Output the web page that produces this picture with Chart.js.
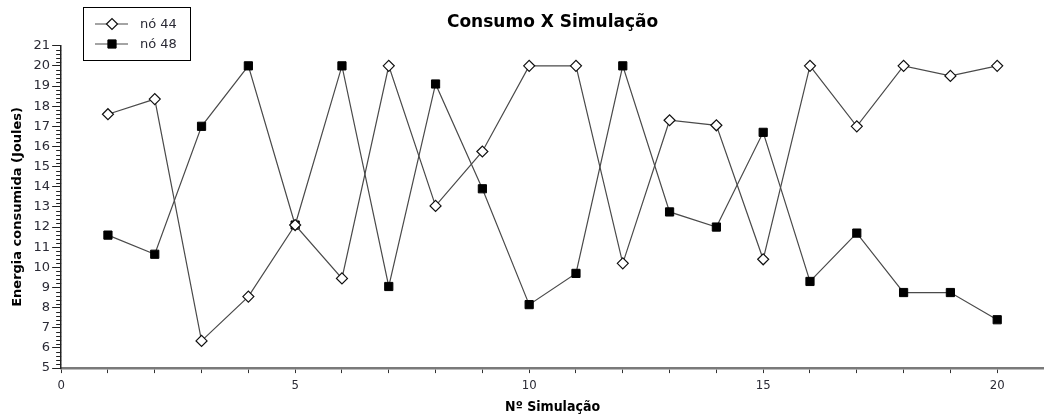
<!DOCTYPE html>
<html>
<head>
<meta charset="utf-8">
<script src="https://cdn.jsdelivr.net/npm/chart.js@4/dist/chart.umd.min.js"></script>
<style>
  html, body { margin: 0; padding: 0; background: #fff; }
  #wrap { width: 1044px; height: 416px; position: relative; }
</style>
</head>
<body>
<div id="wrap"><canvas id="c" width="1044" height="416"></canvas></div>
<script>
const simulacoes = [1,2,3,4,5,6,7,8,9,10,11,12,13,14,15,16,17,18,19,20];
const no44 = [17.6,18.35,6.35,8.55,12.1,9.45,20,13.05,15.75,20,20,10.2,17.3,17.05,10.4,20,17,20,19.5,20];
const no48 = [11.6,10.65,17,20,12.1,20,9.05,19.1,13.9,8.15,9.7,20,12.75,12,16.7,9.3,11.7,8.75,8.75,7.4];
const seriesNames = ['nó 44', 'nó 48'];
const titleText = 'Consumo X Simulação';
const xTitle = 'Nº Simulação';
const yTitle = 'Energia consumida (Joules)';
const xLabelTicks = [0,5,10,15,20];

const LINE = '#4a4a4a';

const minorTicks = {
  id: 'minorTicks',
  afterDraw(chart) {
    const y = chart.scales.y, ctx = chart.ctx, left = chart.chartArea.left;
    ctx.save();
    ctx.strokeStyle = '#222';
    ctx.lineWidth = 1;
    for (let i = 5 * 5; i <= 21 * 5; i++) {
      if (i % 5 === 0) continue;
      const py = Math.round(y.getPixelForValue(i / 5)) + 0.5;
      ctx.beginPath();
      ctx.moveTo(left - 5, py);
      ctx.lineTo(left, py);
      ctx.stroke();
    }
    ctx.restore();
  }
};

const boxLegend = {
  id: 'boxLegend',
  afterDraw(chart) {
    const ctx = chart.ctx;
    ctx.save();
    ctx.fillStyle = '#fff';
    ctx.fillRect(83.5, 7.5, 107, 53);
    ctx.strokeStyle = '#000';
    ctx.lineWidth = 1;
    ctx.strokeRect(83.5, 7.5, 107, 53);
    chart.data.datasets.forEach((ds, i) => {
      const yy = 24 + i * 20;
      ctx.strokeStyle = LINE;
      ctx.lineWidth = 1.2;
      ctx.beginPath();
      ctx.moveTo(95, yy);
      ctx.lineTo(128, yy);
      ctx.stroke();
      const opts = { pointStyle: ds.pointStyle, radius: ds.pointRadius, borderWidth: ds.pointBorderWidth, rotation: 0 };
      ctx.fillStyle = ds.pointBackgroundColor;
      ctx.strokeStyle = ds.pointBorderColor;
      ctx.lineWidth = ds.pointBorderWidth;
      Chart.helpers.drawPoint(ctx, opts, 112, yy);
      ctx.fillStyle = '#2a2a35';
      ctx.font = '13px "DejaVu Sans"';
      ctx.textBaseline = 'middle';
      ctx.textAlign = 'left';
      ctx.fillText(ds.label, 140, yy + 0.5);
    });
    ctx.restore();
  }
};

Chart.defaults.font.family = '"DejaVu Sans"';
Chart.defaults.color = '#2a2a35';

new Chart(document.getElementById('c'), {
  type: 'line',
  data: {
    datasets: [
      {
        label: seriesNames[0],
        data: simulacoes.map((x, i) => ({ x, y: no44[i] })),
        borderColor: LINE,
        borderWidth: 1.2,
        pointStyle: 'rectRot',
        pointRadius: 5.5,
        pointBackgroundColor: '#fff',
        pointBorderColor: '#111',
        pointBorderWidth: 1.2,
        tension: 0
      },
      {
        label: seriesNames[1],
        data: simulacoes.map((x, i) => ({ x, y: no48[i] })),
        borderColor: LINE,
        borderWidth: 1.2,
        pointStyle: 'rect',
        pointRadius: 5.8,
        pointBackgroundColor: '#000',
        pointBorderColor: '#000',
        pointBorderWidth: 1,
        tension: 0
      }
    ]
  },
  options: {
    responsive: false,
    animation: false,
    layout: { autoPadding: false, padding: { left: 10, right: 0, top: 0, bottom: 0.5 } },
    plugins: {
      legend: { display: false },
      tooltip: { enabled: false },
      title: {
        display: true,
        text: titleText,
        fullSize: false,
        color: '#000',
        font: { size: 17, weight: 'bold', family: '"DejaVu Sans"' },
        padding: { top: 12.5, bottom: 12.8 }
      }
    },
    scales: {
      x: {
        type: 'linear',
        min: 0, max: 21,
        afterFit: (s) => { s.paddingRight = 0; },
        border: { display: true, color: '#7a7a7a', width: 2.5 },
        grid: { drawOnChartArea: false, drawTicks: true, tickLength: 5, tickColor: '#333', tickWidth: 1 },
        ticks: {
          stepSize: 1, autoSkip: false, maxRotation: 0, padding: 5,
          color: '#2a2a35',
          font: { size: 13, family: '"DejaVu Sans Condensed", "DejaVu Sans"' },
          callback: (v) => xLabelTicks.includes(v) ? String(v) : ''
        },
        title: {
          display: true, text: xTitle, color: '#000',
          font: { size: 14, weight: 'bold', family: '"DejaVu Sans Condensed", "DejaVu Sans"' },
          padding: { top: 0, bottom: 0 }
        }
      },
      y: {
        type: 'linear',
        min: 5, max: 21,
        border: { display: true, color: '#222', width: 1.5 },
        grid: { drawOnChartArea: false, drawTicks: true, tickLength: 9, tickColor: '#222', tickWidth: 1 },
        ticks: {
          stepSize: 1, autoSkip: false, padding: 2,
          color: '#2a2a35',
          font: { size: 13 }
        },
        title: {
          display: true, text: yTitle, color: '#000',
          font: { size: 13, weight: 'bold' },
          padding: { top: 0, bottom: 6 }
        }
      }
    }
  },
  plugins: [minorTicks, boxLegend]
});
</script>
</body>
</html>
